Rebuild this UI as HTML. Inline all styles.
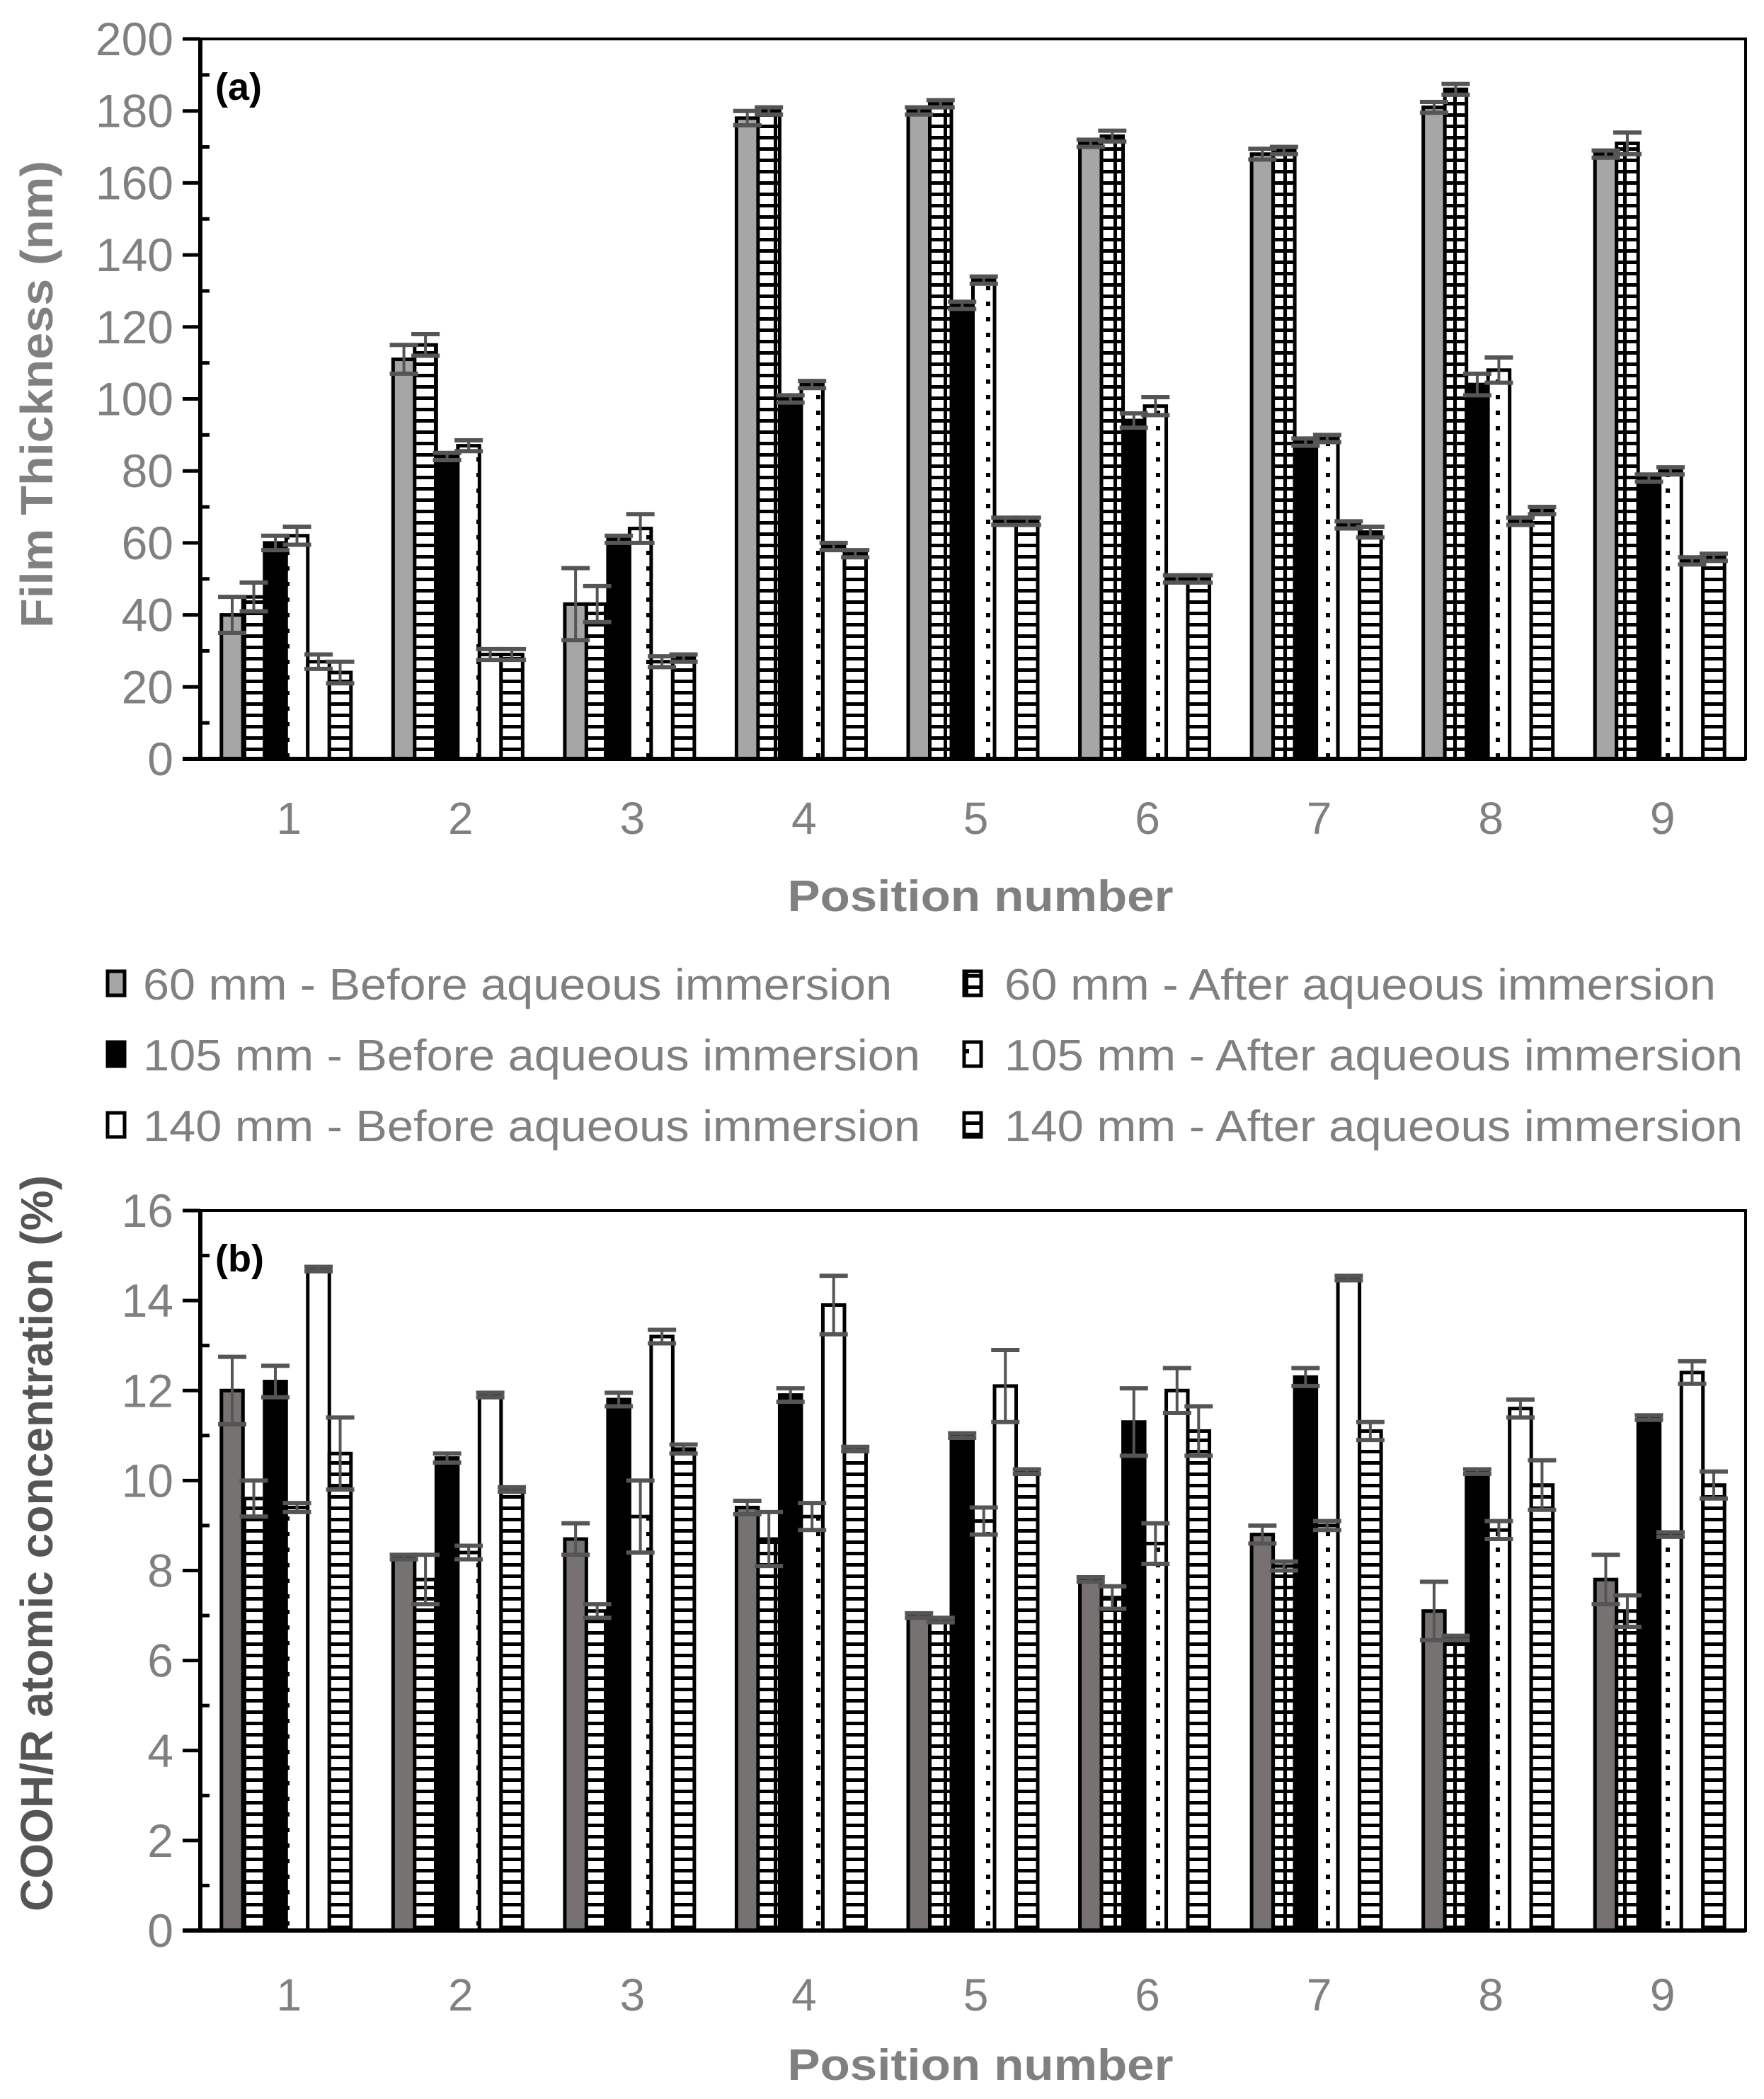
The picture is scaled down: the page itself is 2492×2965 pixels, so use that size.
<!DOCTYPE html>
<html><head><meta charset="utf-8"><style>
html,body{margin:0;padding:0;background:#fff}
svg{display:block}
text{font-family:"Liberation Sans",Arial,sans-serif}
</style></head><body>
<svg id="chart" width="2492" height="2965" viewBox="0 0 2492 2965" xmlns="http://www.w3.org/2000/svg">
<defs>
<pattern id="pGrid" patternUnits="userSpaceOnUse" width="30" height="16">
<rect width="30" height="16" fill="#fff"/><rect x="0" y="0" width="30" height="5" fill="#000"/><rect x="13" y="0" width="5" height="16" fill="#000"/>
</pattern>
<pattern id="pDots" patternUnits="userSpaceOnUse" width="30" height="22">
<rect width="30" height="22" fill="#fff"/><rect x="13" y="8" width="6" height="6" fill="#000"/>
</pattern>
<pattern id="pHoriz" patternUnits="userSpaceOnUse" width="30" height="16">
<rect width="30" height="16" fill="#fff"/><rect x="0" y="0" width="30" height="5" fill="#000"/>
</pattern>
</defs>
</svg>
<script>
const categories=['1','2','3','4','5','6','7','8','9'];
const seriesNames=['60 mm - Before aqueous immersion','60 mm - After aqueous immersion','105 mm - Before aqueous immersion','105 mm - After aqueous immersion','140 mm - Before aqueous immersion','140 mm - After aqueous immersion'];
const thickS1=[40,111,43,178,180,171,168,181,168];
const thickS2=[45,115,43,180,182,173,169,186,171];
const thickS3=[60,84,61,100,126,94,88,104,78];
const thickS4=[62,87,64,104,133,98,89,108,80];
const thickS5=[27,29,27,59,66,50,65,66,55];
const thickS6=[24,29,28,57,66,50,63,69,56];
const thickE1=[5,4,10,2,1,1,1.5,1.5,1];
const thickE2=[4,3,5,1,1,1.5,1,1.5,3];
const thickE3=[2,1,1,1,1,2,1,3,1];
const thickE4=[2.5,1.5,4,1,1,2.5,1,3.5,1];
const thickE5=[2,1.5,1.5,1,1,1,1,1,1];
const thickE6=[3,1.5,1,1,1,1,1.5,1,1];
const cooS1=[12.0,8.3,8.7,9.4,7.0,7.8,8.8,7.1,7.8];
const cooS2=[9.6,7.8,7.1,8.7,6.9,7.4,8.1,6.5,7.1];
const cooS3=[12.2,10.5,11.8,11.9,11.0,11.3,12.3,10.2,11.4];
const cooS4=[9.4,8.4,9.2,9.2,9.1,8.6,9.0,8.9,8.8];
const cooS5=[14.7,11.9,13.2,13.9,12.1,12.0,14.5,11.6,12.4];
const cooS6=[10.6,9.8,10.7,10.7,10.2,11.1,11.1,9.9,9.9];
const cooE1=[0.75,0.05,0.35,0.15,0.05,0.05,0.2,0.65,0.55];
const cooE2=[0.4,0.55,0.15,0.6,0.05,0.25,0.1,0.05,0.35];
const cooE3=[0.35,0.1,0.15,0.15,0.05,0.75,0.2,0.05,0.05];
const cooE4=[0.1,0.15,0.8,0.3,0.3,0.45,0.1,0.2,0.05];
const cooE5=[0.05,0.05,0.15,0.65,0.8,0.5,0.05,0.2,0.25];
const cooE6=[0.8,0.05,0.1,0.05,0.05,0.55,0.2,0.55,0.3];
const ticksA=[0,20,40,60,80,100,120,140,160,180,200];
const ticksB=[0,2,4,6,8,10,12,14,16];

const NS='http://www.w3.org/2000/svg';
const svg=document.getElementById('chart');
function mk(tag,attrs,parent){const e=document.createElementNS(NS,tag);for(const k in attrs)e.setAttribute(k,attrs[k]);(parent||svg).appendChild(e);return e;}

function drawChart(cfg){
  const g=mk('g',{});
  
  
  const L=283,R=2466,T=cfg.top,B=cfg.bottom;
  const yS=v=>B-(v-cfg.min)/(cfg.max-cfg.min)*(B-T);
  const gw=(R-L)/categories.length;
  const xC=i=>L+(i+0.5)*gw;
  const bw=30.5;
  const fills=[cfg.firstFill,'url(#pGrid)','#000','url(#pDots)','#fff','url(#pHoriz)'];
  cfg.series.forEach((arr,s)=>{
    arr.forEach((v,i)=>{
      const x=xC(i)-91.5+s*bw;
      const r=mk('rect',{x:x,y:yS(v),width:bw,height:B-yS(v),fill:fills[s],stroke:'#000','stroke-width':5},g);
      
      
    });
  });
  cfg.series.forEach((arr,s)=>{
    arr.forEach((v,i)=>{
      const e=cfg.errors[s][i];
      const cx=xC(i)-91.5+s*bw+bw/2;
      const eg=mk('g',{stroke:'#555','stroke-width':6},g);
      
      
      mk('line',{x1:cx,x2:cx,y1:yS(v-e),y2:yS(v+e),'stroke-width':4},eg);
      mk('line',{x1:cx-20,x2:cx+20,y1:yS(v-e),y2:yS(v-e)},eg);
      mk('line',{x1:cx-20,x2:cx+20,y1:yS(v+e),y2:yS(v+e)},eg);
    });
  });
  const fr=mk('rect',{x:L,y:T,width:R-L,height:B-T,fill:'none',stroke:'#000','stroke-width':4},g);
  
  
  mk('line',{x1:L,x2:L,y1:T,y2:B+2,stroke:'#000','stroke-width':6},g);
  mk('line',{x1:L-25,x2:R,y1:B,y2:B,stroke:'#000','stroke-width':6},g);
  cfg.ticks.forEach((t,k)=>{
    const y=yS(t);
    mk('line',{x1:L-25,x2:L,y1:y,y2:y,stroke:'#000','stroke-width':5},g);
    if(k<cfg.ticks.length-1){
      const ym=yS((t+cfg.ticks[k+1])/2);
      mk('line',{x1:L,x2:L+13,y1:ym,y2:ym,stroke:'#000','stroke-width':5},g);
    }
    const tl=mk('text',{x:L-38,y:y+23,'text-anchor':'end','font-size':66,fill:'#808080'},g);
    tl.textContent=t;
    
    
  });
  categories.forEach((c,i)=>{
    const tl=mk('text',{x:xC(i)+4,y:cfg.xLabelY,'text-anchor':'middle','font-size':64,fill:'#808080'},g);
    tl.textContent=c;
    
    
  });
  const xt=mk('text',{x:1385,y:cfg.xTitleY,'text-anchor':'middle','font-size':62,'font-weight':'bold',fill:'#808080',textLength:545,lengthAdjust:'spacingAndGlyphs'},g);
  xt.textContent='Position number';
  
  
  const yt=mk('text',{x:0,y:0,'text-anchor':'middle','font-size':64,'font-weight':'bold',fill:cfg.yTitleColor,textLength:cfg.yTitleLen,lengthAdjust:'spacingAndGlyphs',transform:'translate(74,'+cfg.yTitleY+') rotate(-90)'},g);
  yt.textContent=cfg.yTitle;
  
  
  const pl=mk('text',{x:304,y:T+86,'font-size':54,'font-weight':'bold',fill:'#000'},g);
  pl.textContent=cfg.panel;
  
  
}

drawChart({name:'chart-a-film-thickness',top:55,bottom:1072,min:0,max:200,ticks:ticksA,
  series:[thickS1,thickS2,thickS3,thickS4,thickS5,thickS6],
  errors:[thickE1,thickE2,thickE3,thickE4,thickE5,thickE6],
  firstFill:'#a6a6a6',xLabelY:1178,xTitleY:1287,yTitle:'Film Thickness (nm)',yTitleY:557,yTitleLen:660,yTitleColor:'#808080',panel:'(a)'});
drawChart({name:'chart-b-cooh-concentration',top:1710,bottom:2727,min:0,max:16,ticks:ticksB,
  series:[cooS1,cooS2,cooS3,cooS4,cooS5,cooS6],
  errors:[cooE1,cooE2,cooE3,cooE4,cooE5,cooE6],
  firstFill:'#777272',xLabelY:2840,xTitleY:2938,yTitle:'COOH/R atomic concentration (%)',yTitleY:2180,yTitleLen:1040,yTitleColor:'#555555',panel:'(b)'});

const legFills=['#a6a6a6','url(#pGrid)','#000','url(#pDots)','#fff','url(#pHoriz)'];
const legWidths=[1058,1005,1098,1043,1098,1043];
const lg=mk('g',{});


seriesNames.forEach((n,s)=>{
  const col=s%2,row=Math.floor(s/2);
  const mx=col?1362:152, tx=col?1419:202, cy=1390+row*100;
  const e=mk('g',{},lg);
  
  
  mk('rect',{x:mx,y:cy-18,width:24,height:34,fill:legFills[s],stroke:'#000','stroke-width':5},e);
  const t=mk('text',{x:tx,y:cy+22,'font-size':62,fill:'#808080',textLength:legWidths[s],lengthAdjust:'spacingAndGlyphs'},e);
  t.textContent=n;
});
</script>
</body></html>
